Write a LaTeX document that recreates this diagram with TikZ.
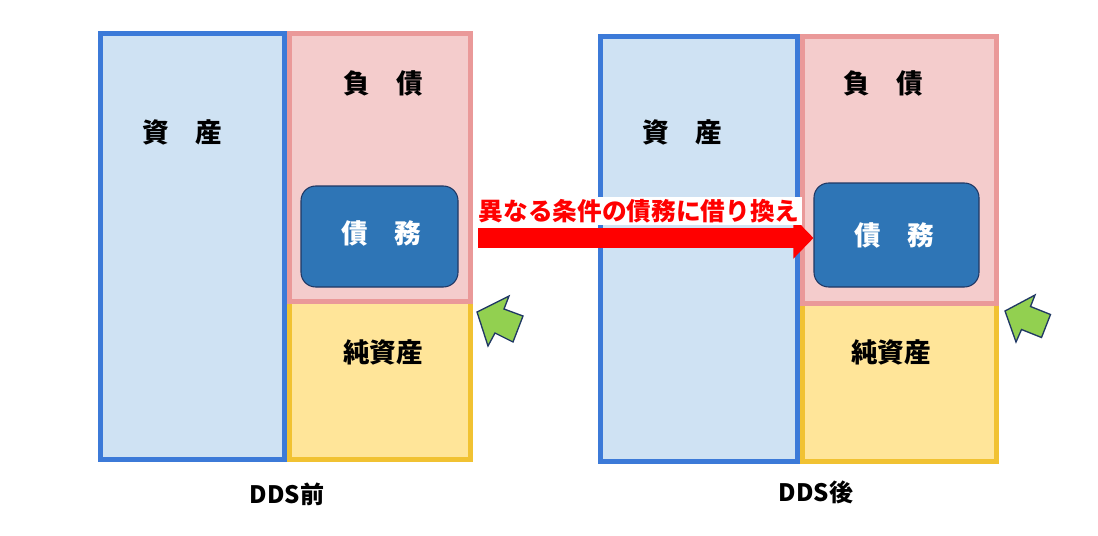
\documentclass[tikz,border=0pt]{standalone}
\usepackage{fontspec}
\setmainfont{Noto Sans CJK JP}
\usetikzlibrary{arrows.meta}
\definecolor{blueF}{HTML}{CFE2F3}
\definecolor{blueB}{HTML}{3C7AD8}
\definecolor{pinkF}{HTML}{F4CCCC}
\definecolor{pinkB}{HTML}{EA9999}
\definecolor{yelF}{HTML}{FFE599}
\definecolor{yelB}{HTML}{F1C232}
\definecolor{debtF}{HTML}{2E75B6}
\definecolor{debtB}{HTML}{203864}
\definecolor{grnF}{HTML}{92D050}
\definecolor{redA}{HTML}{FF0000}
\begin{document}
\begin{tikzpicture}[x=0.75pt,y=-0.75pt,
  box/.style={rectangle, inner sep=0pt, line width=3.75pt},
  assetbox/.style={box, draw=blueB, fill=blueF},
  liabbox/.style={box, draw=pinkB, fill=pinkF},
  equitybox/.style={box, draw=yelB, fill=yelF},
  debtbox/.style={rectangle, rounded corners=11pt, draw=debtB, fill=debtF, line width=0.8pt, inner sep=0pt},
  lbl/.style={font=\bfseries\fontsize{20pt}{24pt}\selectfont, inner sep=0pt, text=black},
  wlbl/.style={lbl, text=white},
  caption/.style={font=\bfseries\fontsize{18pt}{22pt}\selectfont, inner sep=0pt},
  greenarrow/.style={fill=grnF, draw=debtB, line width=1pt, line join=miter}
]
\useasboundingbox (0,0) rectangle (1098,535);
% ---------- left (before) ----------
\node[assetbox, minimum width=184*0.75pt, minimum height=426*0.75pt] (la) at (192.5,246.5) {};
\node[equitybox, minimum width=181*0.75pt, minimum height=158.5*0.75pt] (le) at (380,380.25) {};
\node[liabbox, minimum width=181*0.75pt, minimum height=267.5*0.75pt] (ll) at (380,167.25) {};
\node[debtbox, minimum width=157*0.75pt, minimum height=101*0.75pt] (ld) at (379.5,236.5) {};
\node[lbl] (lat) at (182,132) {資　産};
\node[lbl] (llt) at (383,83) {負　債};
\node[wlbl] (ldt) at (381,233) {債　務};
\node[lbl] (let) at (383,352) {純資産};
\node[caption] (lcap) at (287,494) {DDS前};
% ---------- right (after) ----------
\node[assetbox, minimum width=196.5*0.75pt, minimum height=425*0.75pt] (ra) at (698.75,249) {};
\node[equitybox, minimum width=194*0.75pt, minimum height=158.5*0.75pt] (re) at (899.5,382.25) {};
\node[liabbox, minimum width=194*0.75pt, minimum height=266.5*0.75pt] (rl) at (899.5,169.75) {};
\node[debtbox, minimum width=165*0.75pt, minimum height=104*0.75pt] (rd) at (896.5,235) {};
\node[lbl] (rat) at (682,132) {資　産};
\node[lbl] (rlt) at (883,83) {負　債};
\node[wlbl] (rdt) at (894,235) {債　務};
\node[lbl] (ret) at (891,352) {純資産};
\node[caption] (rcap) at (816,492) {DDS後};
% ---------- red arrow ----------
\coordinate (rs) at (478,238);
\draw[redA, line width=15pt, -{Triangle[length=15pt,width=30pt]}] (rs) -- (rs -| rd.west);
\node[fill=white, text=redA, font=\bfseries\fontsize{18.5pt}{22pt}\selectfont, inner xsep=2pt, inner ysep=1.5pt] (rlab) at (639,211) {異なる条件の債務に借り換え};
% ---------- green arrows ----------
\draw[greenarrow] (477,312) -- (509,296) -- (504,309) -- (523,316) -- (513,342) -- (495,333) -- (488,346) -- cycle;
\draw[greenarrow] (1005,311) -- (1035,295) -- (1030.5,306.5) -- (1050.5,314.5) -- (1041.5,337.5) -- (1021.5,329.5) -- (1016,342) -- cycle;
\end{tikzpicture}
\end{document}
